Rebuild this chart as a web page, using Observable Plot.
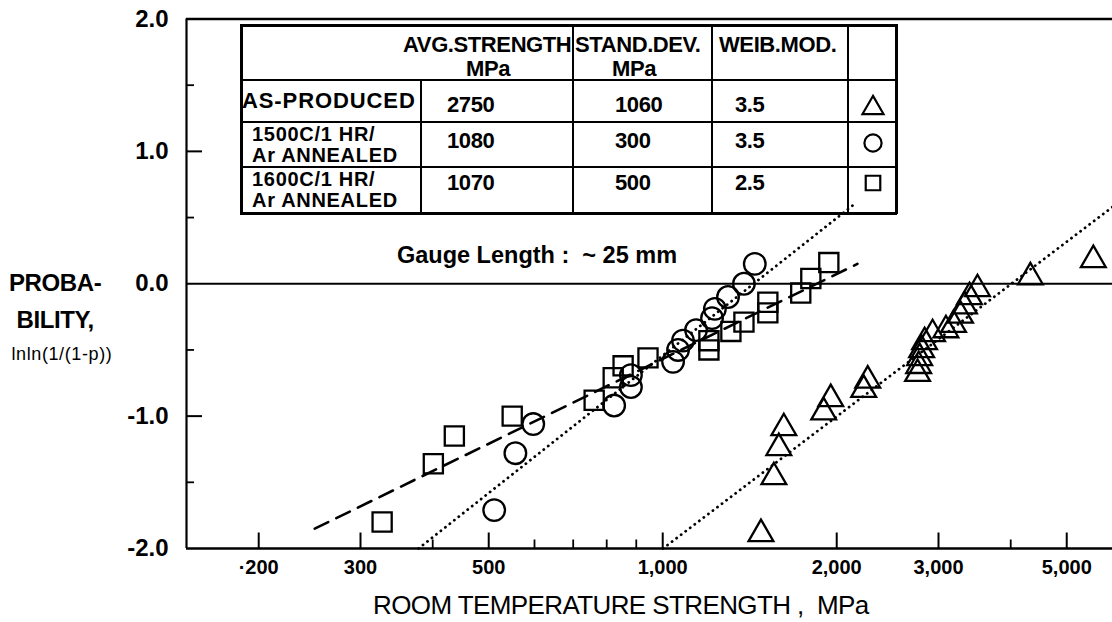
<!DOCTYPE html>
<html><head><meta charset="utf-8">
<script src="https://cdn.jsdelivr.net/npm/d3@7"></script>
<script src="https://cdn.jsdelivr.net/npm/@observablehq/plot@0.6"></script>
<style>
body{margin:0;background:#fff;}
#wrap{position:relative;width:1112px;height:622px;overflow:hidden;font-family:"Liberation Sans",Arial,sans-serif;color:#000;background:#fff;}
#wrap svg{position:absolute;left:0;top:0;}
.t{position:absolute;white-space:pre;font-weight:bold;font-size:22px;line-height:18px;letter-spacing:-0.4px;}
.ln{position:absolute;background:#000;}
</style></head>
<body><div id="wrap"></div>
<script>
// ---- data ----
const sqStrength = [327,401,436,549,761,821,854,943,1202,1202,1312,1382,1520,1520,1733,1804,1938];
const sqProb     = [-1.80,-1.36,-1.15,-1.00,-0.88,-0.71,-0.62,-0.56,-0.50,-0.43,-0.36,-0.29,-0.22,-0.14,-0.07,0.04,0.16];
const ciStrength = [511,556,597,824,881,881,1042,1063,1084,1142,1217,1231,1297,1382,1443];
const ciProb     = [-1.71,-1.28,-1.06,-0.92,-0.78,-0.69,-0.59,-0.50,-0.43,-0.35,-0.26,-0.19,-0.10,0.00,0.15];
const trStrength = [1479,1557,1588,1620,1899,1953,2227,2263,2760,2772,2783,2805,2838,2930,3090,3185,3275,3327,3394,3504,4326,5559];
const trProb     = [-1.89,-1.46,-1.24,-1.09,-0.97,-0.87,-0.80,-0.73,-0.68,-0.62,-0.56,-0.50,-0.44,-0.38,-0.35,-0.31,-0.24,-0.17,-0.10,-0.04,0.05,0.18];
const sqFitX = [250, 2172], sqFitY = [-1.85, 0.15];
const ciFitX = [378, 2158], ciFitY = [-2.0, 0.61];
const trFitX = [1001, 6000], trFitY = [-2.0, 0.58];
const xMajor = [200, 300, 500, 1000, 2000, 3000, 5000];
const xLabels = ["·200", "300", "500", "1,000", "2,000", "3,000", "5,000"];
const xMinor = [400, 600, 700, 800, 900, 4000];
const yMajor = [-2, -1, 0, 1, 2];
const yMinor = [-1.5, -0.5, 0.5, 1.5];
const gaugeNote = [{x: 606, y: 0.21, text: "Gauge Length :  ~ 25 mm"}];
const tableHead = ["AVG.STRENGTH", "STAND.DEV.", "WEIB.MOD."];
const tableUnits = ["MPa", "MPa", ""];
const conditions = [["AS-PRODUCED"], ["1500C/1 HR/", "Ar ANNEALED"], ["1600C/1 HR/", "Ar ANNEALED"]];
const avgStrength = ["2750", "1080", "1070"];
const standDev = ["1060", "300", "500"];
const weibMod = ["3.5", "3.5", "2.5"];
const rowSymbols = ["triangle", "circle", "square"];
const yTitle = ["PROBA-", "BILITY,", "lnln(1/(1-p))"];
const xTitle = "ROOM TEMPERATURE STRENGTH ,  MPa";

const pts = (xs, ys) => xs.map((x, i) => ({x, y: ys[i]}));
const labelMap = new Map(xMajor.map((v, i) => [v, xLabels[i]]));

const chart = Plot.plot({
  width: 1112, height: 622,
  marginLeft: 186, marginRight: 0, marginTop: 18.5, marginBottom: 74,
  x: {type: "log", domain: [150, 6000], axis: null},
  y: {domain: [-2, 2], axis: null},
  style: "font-family:'Liberation Sans',Arial,sans-serif;font-size:20px;font-weight:bold;background:transparent;overflow:visible;color:#000",
  marks: [
    Plot.ruleY([-2, 2], {stroke: "#000", strokeWidth: 2.6}),
    Plot.ruleY([0], {stroke: "#000", strokeWidth: 2.2}),
    Plot.ruleX([150], {stroke: "#000", strokeWidth: 2.2}),
    Plot.tickX(xMajor, {x: d => d, insetTop: 514, stroke: "#000", strokeWidth: 2}),
    Plot.tickX(xMinor, {x: d => d, insetTop: 521, stroke: "#000", strokeWidth: 1.8}),
    Plot.tickY(yMajor.filter(d => Math.abs(d) === 1), {y: d => d, insetRight: 910, stroke: "#000", strokeWidth: 2}),
    Plot.tickY(yMinor, {y: d => d, insetRight: 918, stroke: "#000", strokeWidth: 1.8}),
    Plot.axisX(xMajor, {tickSize: 0, tickPadding: 11, tickFormat: d => labelMap.get(d), label: null, fontSize: 20, fontWeight: "bold"}),
    Plot.axisY(yMajor, {tickSize: 0, tickPadding: 18, tickFormat: d => d.toFixed(1), label: null, fontSize: 24, fontWeight: "bold"}),
    Plot.line(pts(sqFitX, sqFitY), {x: "x", y: "y", stroke: "#000", strokeWidth: 2.6, strokeDasharray: "15,9"}),
    Plot.line(pts(ciFitX, ciFitY), {x: "x", y: "y", stroke: "#000", strokeWidth: 2.8, strokeDasharray: "0.1,5.6", strokeLinecap: "round"}),
    Plot.line(pts(trFitX, trFitY), {x: "x", y: "y", stroke: "#000", strokeWidth: 2.8, strokeDasharray: "0.1,5.6", strokeLinecap: "round"}),
    Plot.dot(pts(sqStrength, sqProb), {x: "x", y: "y", symbol: "square", r: 10.8, stroke: "#000", strokeWidth: 2.3, fill: "none"}),
    Plot.dot(pts(ciStrength, ciProb), {x: "x", y: "y", symbol: "circle", r: 10.8, stroke: "#000", strokeWidth: 2.3, fill: "none"}),
    Plot.dot(pts(trStrength, trProb), {x: "x", y: "y", symbol: "triangle", r: 9.2, stroke: "#000", strokeWidth: 2.3, fill: "none"}),
    Plot.text(gaugeNote, {x: "x", y: "y", text: "text", fontSize: 23.5, fontWeight: "bold", textAnchor: "middle", fill: "#000"})
  ]
});

const wrap = document.getElementById("wrap");
wrap.appendChild(chart);

function addText(str, left, cy, opts = {}) {
  const d = document.createElement("div");
  d.className = "t";
  d.textContent = str;
  const {anchor, ...css} = opts;
  Object.assign(d.style, css);
  wrap.appendChild(d);
  const w = d.offsetWidth, h = d.offsetHeight;
  let l = left;
  if (anchor === "middle") l = left - w / 2;
  else if (anchor === "end") l = left - w;
  d.style.left = l + "px";
  d.style.top = (cy - h / 2) + "px";
  return d;
}
function addLine(x, y, w, h) {
  const d = document.createElement("div");
  d.className = "ln";
  Object.assign(d.style, {left: x + "px", top: y + "px", width: w + "px", height: h + "px"});
  wrap.appendChild(d);
}

// ---- table layout ----
const colX = [241, 421, 573, 712, 848, 896];
const rowY = [25, 80, 122, 167, 213];
addLine(colX[0] - 1, rowY[0] - 1, colX[5] - colX[0] + 2, 2.6);
addLine(colX[0] - 1, rowY[4] - 1, colX[5] - colX[0] + 2, 2.6);
addLine(colX[0] - 1, rowY[0] - 1, 2.6, rowY[4] - rowY[0] + 2);
addLine(colX[5] - 1, rowY[0] - 1, 2.6, rowY[4] - rowY[0] + 2);
for (let r = 1; r <= 3; r++) addLine(colX[0], rowY[r] - 0.8, colX[5] - colX[0], 1.8);
for (let c = 2; c <= 4; c++) addLine(colX[c] - 0.8, rowY[0], 1.8, rowY[4] - rowY[0]);
addLine(colX[1] - 0.8, rowY[1], 1.6, rowY[4] - rowY[1]);

// header
addText(tableHead[0], colX[2] - 2, 45, {anchor: "end"});
addText(tableUnits[0], 488, 69, {anchor: "middle"});
addText(tableHead[1], colX[2] + 2, 45);
addText(tableUnits[1], 634, 69, {anchor: "middle"});
addText(tableHead[2], colX[3] + 7, 45);

const numY = [105, 141, 183];
const labY = [[101], [134, 155], [179, 200]];
const symY = [108, 143, 183];
for (let i = 0; i < 3; i++) {
  conditions[i].forEach((s, j) => {
    if (i === 0) addText(s, colX[0] + 1, labY[i][j], {letterSpacing: "0.9px"});
    else addText(s, colX[0] + 11, labY[i][j], {fontSize: "20px", letterSpacing: "0.7px"});
  });
  addText(avgStrength[i], 447, numY[i]);
  addText(standDev[i], 615, numY[i]);
  addText(weibMod[i], 735, numY[i]);
  const sym = {triangle: d3.symbolTriangle, circle: d3.symbolCircle, square: d3.symbolSquare}[rowSymbols[i]];
  const rr = rowSymbols[i] === "triangle" ? 7.8 : rowSymbols[i] === "circle" ? 8.6 : 8.2;
  const svg = d3.create("svg").attr("width", 30).attr("height", 30)
    .style("position", "absolute").style("left", (873 - 15) + "px").style("top", (symY[i] - 15) + "px");
  svg.append("path").attr("transform", "translate(15,15)")
    .attr("d", d3.symbol(sym, Math.PI * rr * rr)())
    .attr("fill", "none").attr("stroke", "#000").attr("stroke-width", 2.2);
  wrap.appendChild(svg.node());
}

// axis titles
addText(yTitle[0], 55, 283, {anchor: "middle", fontSize: "24px", lineHeight: "22px"});
addText(yTitle[1], 55, 320, {anchor: "middle", fontSize: "24px", lineHeight: "22px"});
addText(yTitle[2], 62, 354, {anchor: "middle", fontSize: "18px", fontWeight: "normal", letterSpacing: "0.6px"});
addText(xTitle, 621, 605, {anchor: "middle", fontSize: "26px", lineHeight: "24px", fontWeight: "normal", letterSpacing: "-0.6px"});
</script>
</body></html>
